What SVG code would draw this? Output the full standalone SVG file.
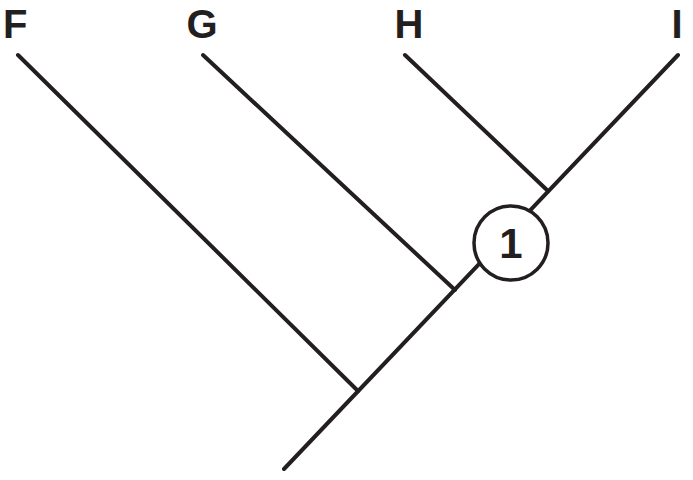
<svg xmlns="http://www.w3.org/2000/svg" width="693" height="480" viewBox="0 0 693 480">
<style>
.ln{stroke:#231f20;stroke-width:4;fill:none;stroke-linecap:round}
.lbl{font-family:"Liberation Sans",Arial,sans-serif;font-weight:bold;font-size:40px;fill:#231f20}
</style>
<rect width="693" height="480" fill="#fff"/>
<g id="connectors">
<line class="ln" x1="284" y1="469" x2="678" y2="55"/>
<line class="ln" x1="18" y1="55" x2="358" y2="391"/>
<line class="ln" x1="203" y1="55" x2="455" y2="290"/>
<line class="ln" x1="405" y1="55" x2="548" y2="191"/>
</g>
<g id="node-F"><text class="lbl" x="3" y="38">F</text></g>
<g id="node-G"><text class="lbl" x="202" y="38" text-anchor="middle">G</text></g>
<g id="node-H"><text class="lbl" x="409" y="38" text-anchor="middle">H</text></g>
<g id="node-I"><text class="lbl" x="677" y="38" text-anchor="middle">I</text></g>
<g id="node-1">
<circle cx="511" cy="243" r="37" fill="#fff" stroke="#231f20" stroke-width="3.5"/>
<text class="lbl" x="511" y="258" text-anchor="middle" style="font-size:42px">1</text>
</g>
</svg>
